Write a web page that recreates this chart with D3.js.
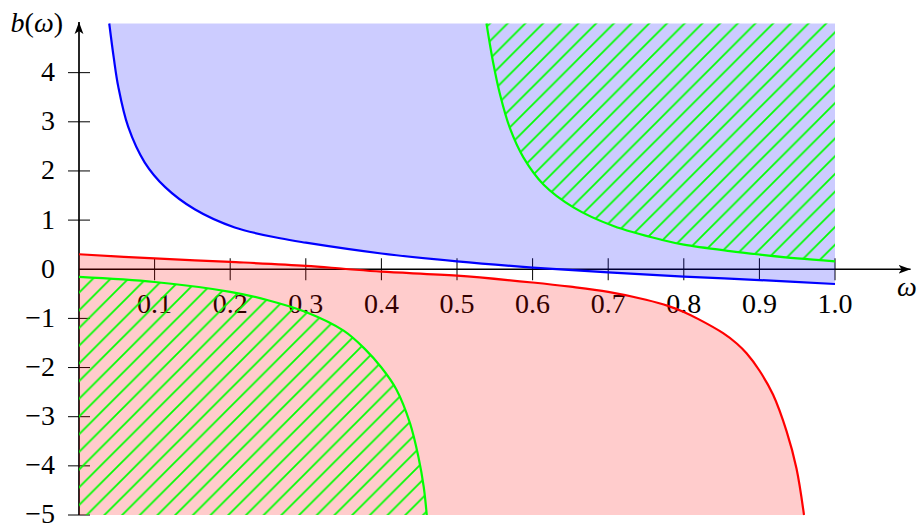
<!DOCTYPE html>
<html>
<head>
<meta charset="utf-8">
<script src="https://cdn.jsdelivr.net/npm/d3@7"></script>
<style>
  body { margin: 0; background: #fff; }
  text { font-family: "Liberation Serif", "Times New Roman", serif; font-size: 28px; fill: #000; }
</style>
</head>
<body>
<svg id="chart" width="920" height="524"></svg>
<script>
// Tick positions and labels
const omegaTicks = [0.1, 0.2, 0.3, 0.4, 0.5, 0.6, 0.7, 0.8, 0.9, 1.0];
const bTicks = [-5, -4, -3, -2, -1, 0, 1, 2, 3, 4];

// Upper boundary curve (blue): region above it is shaded blue
const blueOmega = [0.040, 0.046, 0.052, 0.065, 0.087, 0.114, 0.153, 0.206, 0.266, 0.300, 0.400, 0.500, 0.600, 0.700, 0.800, 0.900, 1.000];
const blueB     = [5.00, 4.30, 3.71, 2.90, 2.17, 1.67, 1.22, 0.85, 0.63, 0.54, 0.32, 0.16, 0.035, -0.065, -0.15, -0.22, -0.30];

// Lower boundary curve (red): region below it is shaded red
const redOmega = [0.000, 0.100, 0.200, 0.300, 0.350, 0.400, 0.500, 0.600, 0.650, 0.700, 0.750, 0.780, 0.800, 0.820, 0.852, 0.870, 0.883, 0.900, 0.918, 0.936, 0.949, 0.959];
const redB     = [0.305, 0.22, 0.15, 0.07, 0.01, -0.05, -0.13, -0.27, -0.355, -0.46, -0.62, -0.75, -0.87, -1.02, -1.30, -1.51, -1.71, -2.06, -2.55, -3.30, -4.05, -5.00];

// Upper green boundary: hatched region above it
const greenUpOmega = [0.539, 0.548, 0.557, 0.570, 0.588, 0.614, 0.654, 0.707, 0.773, 0.800, 0.861, 0.900, 0.950, 1.000];
const greenUpB     = [5.00, 4.19, 3.55, 2.87, 2.27, 1.73, 1.26, 0.88, 0.59, 0.50, 0.37, 0.30, 0.22, 0.16];

// Lower green boundary: hatched region below it
const greenLowOmega = [0.000, 0.100, 0.200, 0.250, 0.300, 0.350, 0.378, 0.400, 0.420, 0.438, 0.449, 0.456, 0.460];
const greenLowB     = [-0.156, -0.26, -0.46, -0.63, -0.87, -1.25, -1.62, -2.00, -2.45, -3.14, -3.82, -4.43, -5.00];

const svg = d3.select("#chart");

const x = d3.scaleLinear().domain([0, 1]).range([79, 835]);
const y = d3.scaleLinear().domain([-5, 5]).range([515, 23.5]);

const zip = (xs, ys) => xs.map((v, i) => [v, ys[i]]);
const blue = zip(blueOmega, blueB);
const red = zip(redOmega, redB);
const greenUp = zip(greenUpOmega, greenUpB);
const greenLow = zip(greenLowOmega, greenLowB);

// Hatch pattern (north-east lines)
const defs = svg.append("defs");
const h = 17.7;
defs.append("pattern")
    .attr("id", "hatch")
    .attr("patternUnits", "userSpaceOnUse")
    .attr("width", h).attr("height", h)
  .append("path")
    .attr("d", `M${-h/4},${h/4} L${h/4},${-h/4} M0,${h} L${h},0 M${3*h/4},${5*h/4} L${5*h/4},${3*h/4}`)
    .attr("stroke", "#00ff00")
    .attr("stroke-width", 1.8);

// Arrow heads for the axes
defs.append("marker")
    .attr("id", "arrow")
    .attr("viewBox", "0 0 12 10")
    .attr("refX", 12).attr("refY", 5)
    .attr("markerWidth", 12).attr("markerHeight", 10)
    .attr("markerUnits", "userSpaceOnUse")
    .attr("orient", "auto")
  .append("path")
    .attr("d", "M0,0.6 L12,5 L0,9.4 L3,5 Z")
    .attr("fill", "#000");

// Axes
const axes = svg.append("g");
axes.append("line")
    .attr("x1", x(0)).attr("y1", y(0))
    .attr("x2", x(1.1)).attr("y2", y(0))
    .attr("stroke", "#000").attr("stroke-width", 1.7)
    .attr("marker-end", "url(#arrow)");
axes.append("line")
    .attr("x1", x(0)).attr("y1", y(-5))
    .attr("x2", x(0)).attr("y2", y(5.03))
    .attr("stroke", "#000").attr("stroke-width", 1.7)
    .attr("marker-end", "url(#arrow)");

// Ticks through the axes
const tickLen = 11;
axes.selectAll(".xt").data(omegaTicks).join("line")
    .attr("x1", d => x(d)).attr("x2", d => x(d))
    .attr("y1", y(0) - tickLen).attr("y2", y(0) + tickLen)
    .attr("stroke", "#000").attr("stroke-width", 1);
axes.selectAll(".yt").data(bTicks.filter(d => d !== 0)).join("line")
    .attr("y1", d => y(d)).attr("y2", d => y(d))
    .attr("x1", x(0) - tickLen).attr("x2", x(0) + tickLen)
    .attr("stroke", "#000").attr("stroke-width", 1);

// Tick labels
const fmtX = d3.format(".1f");
axes.selectAll(".xl").data(omegaTicks).join("text")
    .attr("x", d => x(d)).attr("y", y(0) + 44)
    .attr("text-anchor", "middle")
    .text(d => fmtX(d));
axes.selectAll(".yl").data(bTicks).join("text")
    .attr("x", 55).attr("y", d => y(d))
    .attr("dy", "0.3em")
    .attr("text-anchor", "end")
    .text(d => d < 0 ? "\u2212" + Math.abs(d) : String(d));

// Axis titles
const yTitle = axes.append("text").attr("x", 63).attr("y", 32).attr("text-anchor", "end");
yTitle.append("tspan").attr("font-style", "italic").text("b");
yTitle.append("tspan").text("(");
yTitle.append("tspan").attr("font-style", "italic").text("ω");
yTitle.append("tspan").text(")");
axes.append("text").attr("x", 907).attr("y", 296)
    .attr("text-anchor", "middle").attr("font-style", "italic").text("ω");

// Shaded regions
const curve = d3.curveCatmullRom.alpha(0.5);
const areaAbove = d3.area().curve(curve).x(d => x(d[0])).y0(y(5)).y1(d => y(d[1]));
const areaBelow = d3.area().curve(curve).x(d => x(d[0])).y0(y(-5)).y1(d => y(d[1]));

svg.append("path").datum(blue).attr("d", areaAbove)
    .attr("fill", "#0000ff").attr("fill-opacity", 0.2);
svg.append("path").datum(red).attr("d", areaBelow)
    .attr("fill", "#ff0000").attr("fill-opacity", 0.2);
svg.append("path").datum(greenUp).attr("d", areaAbove)
    .attr("fill", "url(#hatch)");
svg.append("path").datum(greenLow).attr("d", areaBelow)
    .attr("fill", "url(#hatch)");

// Boundary curves
const line = d3.line().curve(curve).x(d => x(d[0])).y(d => y(d[1]));
[[blue, "#0000ff"], [red, "#ff0000"], [greenUp, "#00ff00"], [greenLow, "#00ff00"]].forEach(([data, color]) => {
  svg.append("path").datum(data).attr("d", line)
    .attr("fill", "none").attr("stroke", color).attr("stroke-width", 2.2);
});
</script>
</body>
</html>
